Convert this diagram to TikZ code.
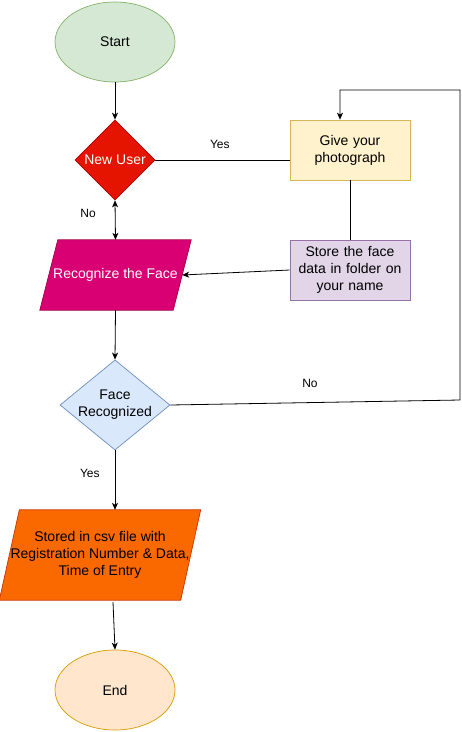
\documentclass[tikz,border=0pt]{standalone}
\usepackage{fontspec}
\setmainfont{Liberation Sans}
\usepackage{xcolor}
\definecolor{startfill}{HTML}{D5E8D4}
\definecolor{startline}{HTML}{82B366}
\definecolor{userfill}{HTML}{E51400}
\definecolor{userline}{HTML}{B20000}
\definecolor{givefill}{HTML}{FFF2CC}
\definecolor{giveline}{HTML}{D6B656}
\definecolor{storefill}{HTML}{E1D5E7}
\definecolor{storeline}{HTML}{9673A6}
\definecolor{recfill}{HTML}{D80073}
\definecolor{recline}{HTML}{A50040}
\definecolor{facefill}{HTML}{DAE8FC}
\definecolor{faceline}{HTML}{6C8EBF}
\definecolor{csvfill}{HTML}{FA6800}
\definecolor{csvline}{HTML}{C73500}
\definecolor{endfill}{HTML}{FFE6CC}
\definecolor{endline}{HTML}{D79B00}
\usetikzlibrary{shapes.geometric}
\usetikzlibrary{arrows.meta}
\usetikzlibrary{backgrounds}
\usetikzlibrary{positioning}

\begin{document}
\begin{tikzpicture}[x=1pt,y=-1pt,
  every node/.style={font=\fontsize{14}{17}\selectfont,align=center,inner sep=1pt},
  oval/.style={ellipse,draw,line width=0.7pt,minimum width=120pt,minimum height=80pt},
  decide/.style={diamond,draw,line width=0.7pt,aspect=1,inner sep=0pt},
  box/.style={rectangle,draw,line width=0.7pt,minimum width=120pt,minimum height=60pt},
  slant/.style={line width=0.7pt},
  lbl/.style={font=\fontsize{12}{14}\selectfont},
  link/.style={line width=0.8pt},
  flow/.style={link,-{Stealth[length=7pt,width=6pt,inset=2pt]}},
  twoway/.style={link,{Stealth[length=7pt,width=6pt,inset=2pt]}-{Stealth[length=7pt,width=6pt,inset=2pt]}}]
\useasboundingbox (0,0) rectangle (462,732);

\coordinate (c1) at (460,400);
\coordinate (c2) at (460,90);
\coordinate (c3) at (340,90);
\coordinate (c4) at (113,602);

  \node (start) at (115,42) [oval,fill=startfill,draw=startline] {Start};
  \node (user) at (115,160) [decide,fill=userfill,draw=userline,text=white,minimum width=80pt,minimum height=80pt] {New User};
  \node (give) at (350,150) [box,fill=givefill,draw=giveline,text width=110pt] {Give your\\photograph};
  \node (store) at (350,270) [box,fill=storefill,draw=storeline,text width=110pt] {Store the face\\data in folder on\\your name};
  \node (rec) at (115.5,275) [text=white,minimum width=133pt,minimum height=70pt] {Recognize the Face};
  \node (face) at (115,405) [decide,aspect=1.22,fill=facefill,draw=faceline,minimum width=110pt,minimum height=90pt] {Face\\Recognized};
  \node (csv) at (100,555) [minimum width=180pt,minimum height=90pt] {Stored in csv file with\\Registration Number \& Data,\\Time of Entry};
  \node (end) at (115,690) [oval,fill=endfill,draw=endline] {End};

  \begin{scope}[on background layer]
    \filldraw[slant,fill=recfill,draw=recline] ([xshift=9pt]rec.north west) -- ([xshift=9pt]rec.north east) -- ([xshift=-9pt]rec.south east) -- ([xshift=-9pt]rec.south west) -- cycle;
    \filldraw[slant,fill=csvfill,draw=csvline] ([xshift=10pt]csv.north west) -- ([xshift=10pt]csv.north east) -- ([xshift=-10pt]csv.south east) -- ([xshift=-10pt]csv.south west) -- cycle;
  \end{scope}

  \draw[flow] (start) -- (user);
  \draw[link] (user.east) -- (user.east -| give.west) node[lbl,pos=0.48,above=10pt] {Yes};
  \draw[link] (give.south) -- (store.north);
  \draw[flow] (store.west) -- (rec.east);
  \draw[twoway] (user.south) -- (rec.north) node[lbl,pos=0.32,left=18pt] {No};
  \draw[flow] (rec.south) -- (face.north);
  \draw[flow] (face.east) -- (c1) -- (c2) -- (c3) -- (c3 |- give.north);
  \node[lbl] (no2) at (310,383) {No};
  \draw[flow] (face.south) -- (csv.north -| face.south) node[lbl,pos=0.38,left=14pt] {Yes};
  \draw[flow] (c4) -- (end.north);
\end{tikzpicture}
\end{document}
